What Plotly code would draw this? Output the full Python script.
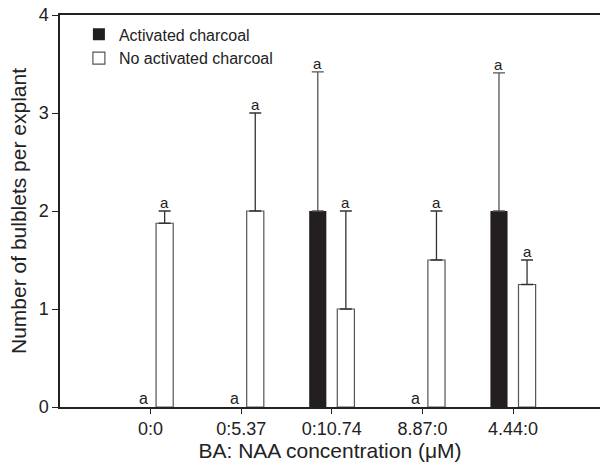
import numpy as np
import plotly.graph_objects as go

categories = ["0:0", "0:5.37", "0:10.74", "8.87:0", "4.44:0"]
ac_values = [0, 0, 2.0, 0, 2.0]
ac_err = [np.nan, np.nan, 1.42, np.nan, 1.41]
noac_values = [1.875, 2.0, 1.0, 1.5, 1.25]
noac_err = [0.125, 1.0, 1.0, 0.5, 0.25]
ac_letters = ["a", "a", "a", "a", "a"]
noac_letters = ["a", "a", "a", "a", "a"]

bargap = 0.38
bargroupgap = 0.39
offset = (1 - bargap) / 4

ac_err_arr = np.array(ac_err, dtype=float)
ac_minus = np.where(np.isnan(ac_err_arr), np.nan, 0.0)

fig = go.Figure()
fig.add_trace(go.Bar(
    x=categories, y=ac_values, name="Activated charcoal",
    marker=dict(color="#231f20", line=dict(color="#231f20", width=0)),
    error_y=dict(type="data", array=ac_err_arr, arrayminus=ac_minus, symmetric=False,
                 color="#555555", thickness=1.3, width=6),
))
fig.add_trace(go.Bar(
    x=categories, y=noac_values, name="No activated charcoal",
    marker=dict(color="white", line=dict(color="#555555", width=1.2)),
    error_y=dict(type="data", array=noac_err, arrayminus=[0]*5, symmetric=False,
                 color="#333333", thickness=1.3, width=6),
))

for i, cat in enumerate(categories):
    e = 0 if np.isnan(ac_err[i]) else ac_err[i]
    top = ac_values[i] + e
    zero = ac_values[i] == 0
    xa = i - offset / 2 if zero else i - offset
    fig.add_annotation(x=xa, y=top, text=ac_letters[i], showarrow=False,
                       yanchor="bottom", yshift=-2,
                       font=dict(size=16 if zero else 15, color="#222"))
    top2 = noac_values[i] + noac_err[i]
    fig.add_annotation(x=i + offset, y=top2, text=noac_letters[i], showarrow=False,
                       yanchor="bottom", yshift=-2, font=dict(size=15, color="#222"))

fig.update_layout(
    width=600, height=465,
    margin=dict(l=60, r=0, t=15, b=58),
    paper_bgcolor="white", plot_bgcolor="white",
    barmode="group", bargap=bargap, bargroupgap=bargroupgap,
    font=dict(family="Liberation Sans, Arial, sans-serif", color="#222"),
    showlegend=True,
    legend=dict(x=0.035, y=0.994, xanchor="left", yanchor="top",
                bgcolor="rgba(0,0,0,0)", font=dict(size=16, color="#222"),
                tracegroupgap=0, itemwidth=30, traceorder="normal"),
    xaxis=dict(
        range=[-1.0, 4.96], showline=True, linecolor="#222", linewidth=1.5,
        mirror=True, ticks="outside", ticklen=5, tickcolor="#222",
        tickfont=dict(size=18), showgrid=False, zeroline=False,
        title=dict(text="BA: NAA concentration (μM)", font=dict(size=21), standoff=2),
    ),
    yaxis=dict(
        range=[0, 4], showline=True, linecolor="#222", linewidth=1.5,
        ticks="outside", ticklen=6, tickcolor="#222", dtick=1,
        tickfont=dict(size=18), showgrid=False, zeroline=False,
        title=dict(text="Number of bulblets per explant", font=dict(size=21), standoff=6),
    ),
)

fig.write_html("out.html")
